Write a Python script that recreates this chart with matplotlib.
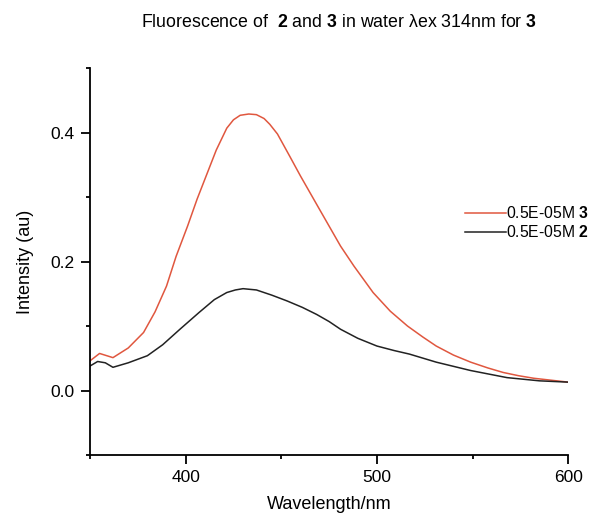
import numpy as np
import matplotlib
matplotlib.use("Agg")
from matplotlib import pyplot as plt

plt.rcParams['font.family'] = ['Liberation Sans', 'DejaVu Sans']
plt.rcParams['mathtext.fontset'] = 'custom'
plt.rcParams['mathtext.rm'] = 'Liberation Sans'
plt.rcParams['mathtext.bf'] = 'Liberation Sans:bold'

# compound 3 (red)
wl_3 = [350, 355, 362, 370, 378, 384, 390, 395, 401, 406, 411, 416, 421.5, 425, 428.5,
        433, 437, 441, 444, 448, 454.5, 460, 470, 481, 488, 498, 507, 516, 524, 531, 540,
        549, 558, 566, 574, 582, 591, 600]
int_3 = [0.046, 0.0575, 0.051, 0.066, 0.09, 0.122, 0.162, 0.208, 0.255, 0.297, 0.335, 0.373,
         0.407, 0.42, 0.427, 0.429, 0.428, 0.422, 0.413, 0.398, 0.363, 0.333, 0.281, 0.224, 0.193,
         0.152, 0.123, 0.1, 0.083, 0.069, 0.055, 0.044, 0.035, 0.028, 0.023, 0.019, 0.016, 0.013]

# compound 2 (black)
wl_2 = [350, 354, 358, 362, 370, 380, 388, 397, 407, 415, 421.5, 426, 430, 437, 445, 453,
        461, 468.5, 475, 481, 490, 500, 509, 517, 531, 549, 568, 585, 600]
int_2 = [0.038, 0.045, 0.043, 0.036, 0.043, 0.054, 0.071, 0.095, 0.121, 0.141, 0.152, 0.156,
         0.158, 0.156, 0.148, 0.139, 0.129, 0.118, 0.107, 0.095, 0.081, 0.069, 0.062, 0.0565,
         0.044, 0.031, 0.02, 0.015, 0.013]

fig = plt.figure(figsize=(6.0, 5.17), dpi=100)
ax = fig.add_axes([0.15, 0.12, 0.797, 0.748])

ax.plot(wl_3, int_3, color='#e0573f', lw=1.1, label=r'0.5E-05M $\mathbf{3}$')
ax.plot(wl_2, int_2, color='#222222', lw=1.1, label=r'0.5E-05M $\mathbf{2}$')

ax.set_xlim(350, 600)
ax.set_ylim(-0.1, 0.5)
ax.set_xticks([400, 500, 600])
ax.set_xticks([350, 450, 550], minor=True)
ax.set_yticks([0.0, 0.2, 0.4])
ax.set_yticks([-0.1, 0.1, 0.3, 0.5], minor=True)
ax.set_yticklabels(['0.0', '0.2', '0.4'])

for s in ['top', 'right']:
    ax.spines[s].set_visible(False)
for s in ['left', 'bottom']:
    ax.spines[s].set_linewidth(1.3)
ax.tick_params(which='major', direction='out', length=6.5, width=1.3, labelsize=12.5, pad=4.5)
ax.tick_params(which='minor', direction='out', length=3, width=1.3)

ax.set_xlabel('Wavelength/nm', fontsize=13, labelpad=8)
ax.set_ylabel('Intensity (au)', fontsize=13, labelpad=12)

ax.legend(loc='center left', bbox_to_anchor=(0.768, 0.60), frameon=False, fontsize=11.3,
          handlelength=2.6, handletextpad=0.0, borderpad=0, labelspacing=0.2)

fig.text(0.565, 0.957, r'Fluorescence of  $\mathbf{2}$ and $\mathbf{3}$ in water λex 314nm for $\mathbf{3}$',
         ha='center', va='center', fontsize=12.8)

fig.savefig('out.png', dpi=100)
